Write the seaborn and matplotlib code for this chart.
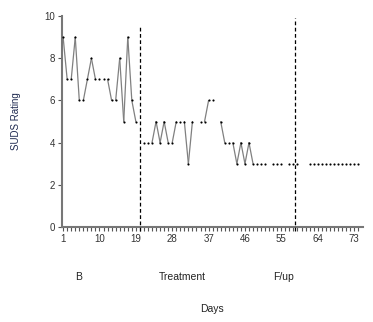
import numpy as np
import pandas as pd
import seaborn as sns
import matplotlib
matplotlib.use("Agg")
import matplotlib.pyplot as plt

sns.set_style("white")
plt.rcParams['font.family'] = ['Liberation Sans', 'DejaVu Sans']

# ---- data ----
days = list(range(1, 75))
suds = [9, 7, 7, 9, 6, 6, 7, 8, 7, 7, 7, 7, 6, 6, 8, 5, 9, 6, 5,          # 1-19 baseline
        None,                                                          # 20
        4, 4, 4, 5, 4, 5, 4, 4, 5, 5, 5, 3, 5,                          # 21-33
        None, 5, 5, 6, 6, None,                                        # 34-39
        5, 4, 4, 4, 3, 4, 3, 4, 3, 3, 3, 3,                             # 40-51
        None, 3, 3, 3, None, 3, 3, 3, None, None,                      # 52-61
        3, 3, 3, 3, 3, 3, 3, 3, 3, 3, 3, 3, 3]                         # 62-74
phase_lines = [20, 58.5]
phase_tops = [9.5, 9.9]
phase_labels = ["B", "Treatment", "F/up"]
phase_label_x = [4.8, 30.5, 55.5]
xtick_vals = list(range(1, 75, 9))
ytick_vals = [0, 2, 4, 6, 8, 10]

df = pd.DataFrame({"day": days, "suds": suds}).astype(float)

# segments between consecutive observed days whose values change
seg_rows = []
seg_id = 0
for i in range(len(df) - 1):
    a, b = df.iloc[i], df.iloc[i + 1]
    if np.isnan(a.suds) or np.isnan(b.suds) or a.suds == b.suds:
        continue
    seg_rows.append({"day": a.day, "suds": a.suds, "seg": seg_id})
    seg_rows.append({"day": b.day, "suds": b.suds, "seg": seg_id})
    seg_id += 1
segs = pd.DataFrame(seg_rows)

fig = plt.figure(figsize=(3.73, 3.22), dpi=100)
ax = fig.add_axes([0.166, 0.295, 0.807, 0.655])

sns.lineplot(data=segs, x="day", y="suds", units="seg", estimator=None,
             color="#808080", linewidth=0.9, ax=ax, legend=False)
sns.scatterplot(data=df.dropna(), x="day", y="suds", color="black",
                marker="o", s=2.4, linewidth=0, ax=ax, legend=False, zorder=3)

for xl, top in zip(phase_lines, phase_tops):
    ax.vlines(xl, -0.2, top, colors="black", linestyles=(0, (3, 2)),
              linewidth=0.9, clip_on=False, zorder=4)

ax.set_xlim(0.7, 75.2)
ax.set_ylim(0, 10)
ax.set_xticks(xtick_vals)
ax.set_xticks(days, minor=True)
ax.set_yticks(ytick_vals)
ax.tick_params(axis="both", which="both", direction="out", length=3,
               width=0.8, color="#555555", labelsize=7, labelcolor="#333333",
               pad=2)
ax.tick_params(axis="x", which="both", bottom=True)
ax.tick_params(axis="y", which="major", left=True)

for s in ["top", "right"]:
    ax.spines[s].set_visible(False)
for s in ["left", "bottom"]:
    ax.spines[s].set_color("#777777")
    ax.spines[s].set_linewidth(1.5)

ax.set_xlabel("")
ax.set_ylabel("SUDS Rating", fontsize=7, color="#1f2a50", labelpad=17)

for lab, lx in zip(phase_labels, phase_label_x):
    ax.text(lx, -2.35, lab, ha="center", va="center", fontsize=7.5,
            color="#222222", transform=ax.transData, clip_on=False)
ax.text(0.5, -0.39, "Days", ha="center", va="center", fontsize=7.5,
        color="#222222", transform=ax.transAxes)

fig.savefig("out.png", dpi=100)
